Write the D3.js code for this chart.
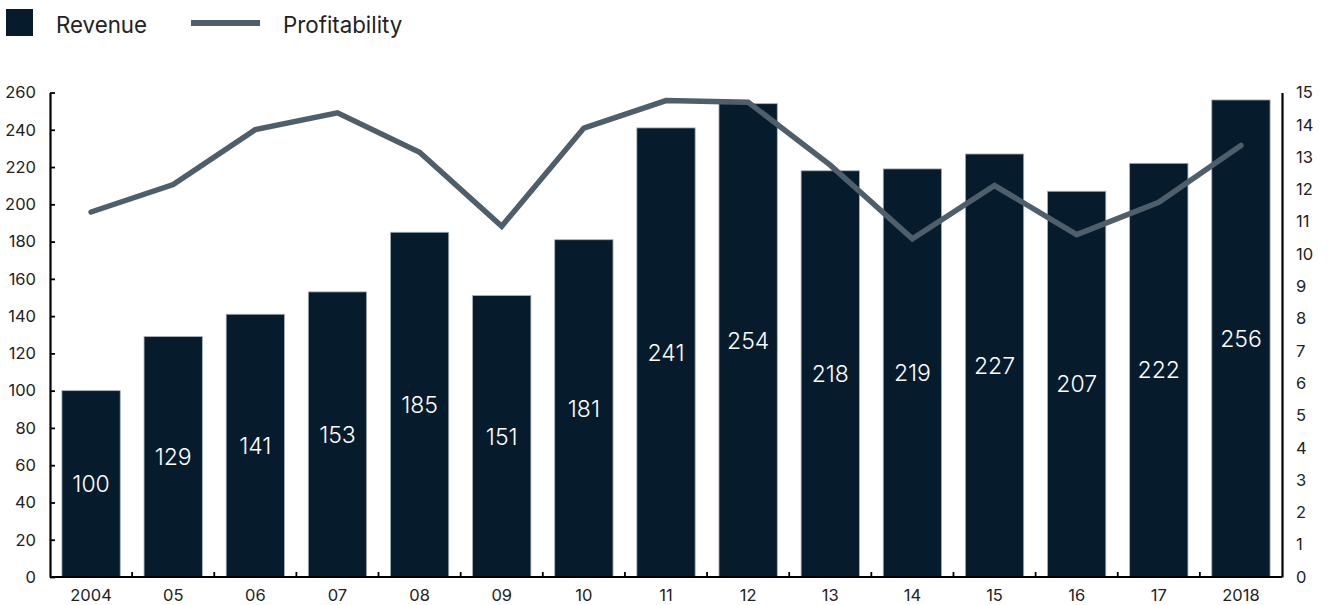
<!DOCTYPE html>
<html><head><meta charset="utf-8">
<script src="https://cdn.jsdelivr.net/npm/d3@7"></script>
<style>
body{margin:0;background:#fff;}
text{font-family:Inter,"Liberation Sans",sans-serif;}
</style></head>
<body><svg id="c" width="1328" height="605"></svg>
<script>
const categories = ["2004","05","06","07","08","09","10","11","12","13","14","15","16","17","2018"];
const revenue = [100,129,141,153,185,151,181,241,254,218,219,227,207,222,256];
const profitability = [11.3,12.15,13.85,14.37,13.15,10.86,13.9,14.75,14.7,12.75,10.47,12.12,10.6,11.6,13.36];
const leftTicks = [0,20,40,60,80,100,120,140,160,180,200,220,240,260];
const rightTicks = [0,1,2,3,4,5,6,7,8,9,10,11,12,13,14,15];

const svg = d3.select("#c");
const L=50, R=1282, T=92.5, B=577;
const barColor="#061c2c", lineColor="#4e5f6b", txt="#222";

const x = d3.scaleBand().domain(categories).range([L,R]).paddingInner(0.29).paddingOuter(0.145);
const yL = d3.scaleLinear().domain([0,260]).range([B,T]);
const yR = d3.scaleLinear().domain([0,15]).range([B,T]);

// bars
svg.append("g").selectAll("rect").data(revenue).join("rect")
  .attr("x",(d,i)=>x(categories[i])).attr("width",x.bandwidth())
  .attr("y",d=>yL(d)).attr("height",d=>B-yL(d))
  .attr("fill",barColor).attr("stroke","#a5b1bb").attr("stroke-width",0.8);

// bar labels
svg.append("g").selectAll("text").data(revenue).join("text")
  .attr("x",(d,i)=>x(categories[i])+x.bandwidth()/2)
  .attr("y",d=>(yL(d)+B)/2)
  .attr("dy","0.36em").attr("text-anchor","middle")
  .attr("fill","#fff").attr("font-size",23).attr("font-weight",300)
  .text(d=>d);

// line
const line = d3.line().x((d,i)=>x(categories[i])+x.bandwidth()/2).y(d=>yR(d));
svg.append("path").datum(profitability).attr("d",line)
  .attr("fill","none").attr("stroke",lineColor).attr("stroke-width",5.5)
  .attr("stroke-linecap","round").attr("stroke-linejoin","miter");

// left axis
const gL = svg.append("g").attr("transform",`translate(${L},0)`)
  .call(d3.axisLeft(yL).tickValues(leftTicks).tickSizeInner(-5).tickSizeOuter(0).tickPadding(14));
gL.select(".domain").attr("stroke","#000").attr("stroke-width",2.2);
gL.selectAll(".tick line").attr("stroke","#000").attr("stroke-width",1.8);
gL.selectAll(".tick text").attr("font-size",16.5).attr("fill",txt).attr("font-family","Inter,'Liberation Sans',sans-serif");

// right axis
const gR = svg.append("g").attr("transform",`translate(${R},0)`)
  .call(d3.axisRight(yR).tickValues(rightTicks).tickSize(0).tickPadding(14));
gR.select(".domain").attr("stroke","#000").attr("stroke-width",2.2);
gR.selectAll(".tick text").attr("font-size",16.5).attr("fill",txt).attr("font-family","Inter,'Liberation Sans',sans-serif");

// bottom axis
const gB = svg.append("g").attr("transform",`translate(0,${B})`)
  .call(d3.axisBottom(x).tickSize(0).tickPadding(12));
gB.select(".domain").attr("stroke","#000").attr("stroke-width",2.2).attr("d",`M${L},0H${R}`);
gB.selectAll(".tick text").attr("font-size",16.5).attr("fill",txt).attr("font-family","Inter,'Liberation Sans',sans-serif");
// separator ticks between categories
svg.append("g").selectAll("line").data(categories.slice(1)).join("line")
  .attr("x1",d=>x(d)-x.step()*x.paddingInner()/2).attr("x2",d=>x(d)-x.step()*x.paddingInner()/2)
  .attr("y1",B).attr("y2",B-5).attr("stroke","#000").attr("stroke-width",1.8);

// legend
const lg = svg.append("g");
lg.append("rect").attr("x",6).attr("y",9).attr("width",27).attr("height",27).attr("fill",barColor);
lg.append("text").attr("x",56).attr("y",33).attr("font-size",22.3).attr("fill",txt).text("Revenue");
lg.append("line").attr("x1",191).attr("x2",260).attr("y1",23).attr("y2",23).attr("stroke",lineColor).attr("stroke-width",6);
lg.append("text").attr("x",283).attr("y",33).attr("font-size",22.3).attr("fill",txt).text("Profitability");
</script></body></html>
